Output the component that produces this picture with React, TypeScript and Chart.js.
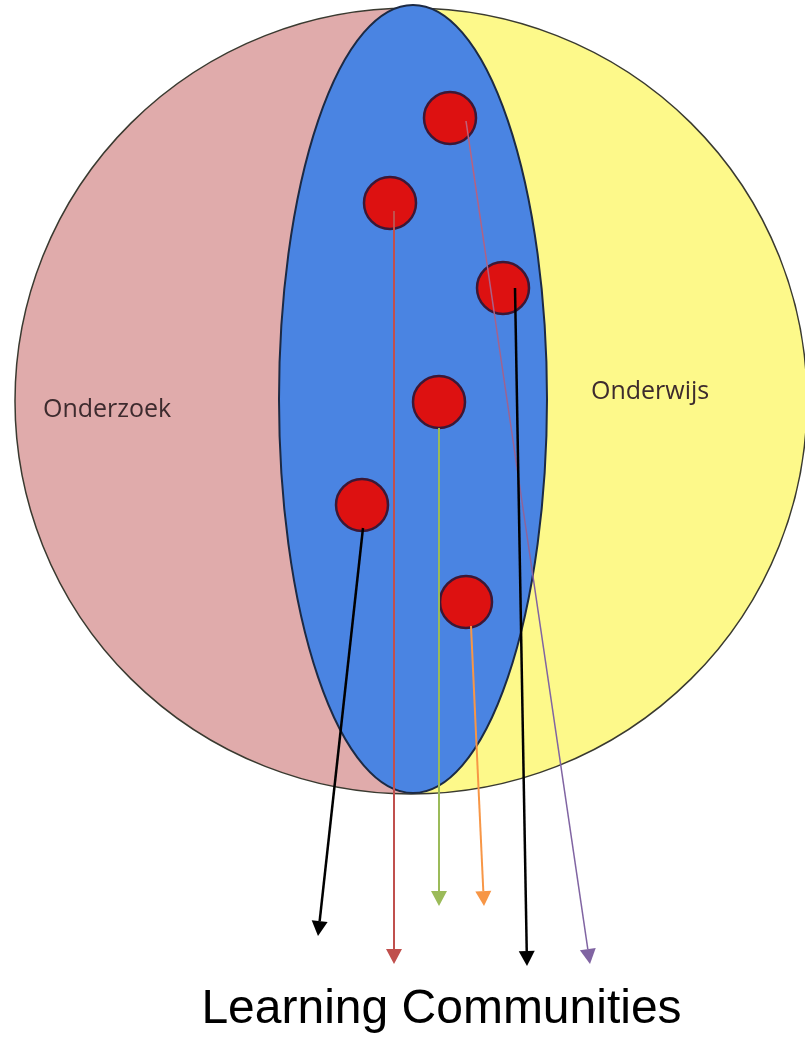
import React, { useEffect, useRef } from "react";
import { Chart, registerables } from "chart.js";

Chart.register(...registerables);

// Region labels
const regionLabels = ["Onderzoek", "Onderwijs"];
const regionLabelX = [43, 591];
const regionLabelY = [417, 399];
const footerLabel = "Learning Communities";

// Red dots (learning communities)
const dotX = [450, 390, 503, 439, 362, 466];
const dotY = [118, 203, 288, 402, 505, 602];

// Arrows from dots towards "Learning Communities"
const arrowStartX = [466, 394, 515, 439, 363, 471];
const arrowStartY = [121, 211, 288, 428, 528, 626];
const arrowEndX = [590, 394, 527, 439, 318, 484];
const arrowEndY = [964, 964, 966, 906, 936, 906];
const arrowColors = ["#8064a2", "#c0504d", "#000000", "#9bbb59", "#000000", "#f79646"];
const arrowTopColors = ["#c0607a", "#c0504d", "#000000", "#9bbb59", "#000000", "#f79646"];
const arrowWidths = [1.5, 2, 2.5, 2, 2.5, 2];

// Ellipses: [cx, cy, rx, ry]
const outerEllipse = [411, 401, 396, 393];
const innerEllipse = [413, 399, 134, 394];

const W = 805;
const H = 1038;

const diagramPlugin = {
  id: "diagram",
  beforeDatasetsDraw(chart: any) {
    const ctx = chart.ctx;
    const xs = chart.scales.x;
    const ys = chart.scales.y;
    const px = (v: number) => xs.getPixelForValue(v);
    const py = (v: number) => ys.getPixelForValue(v);
    const [ocx, ocy, orx, ory] = outerEllipse;
    const cx = px(ocx), cy = py(ocy);
    const rx = px(ocx + orx) - cx, ry = Math.abs(py(ocy + ory) - cy);
    ctx.save();
    // pink left half
    ctx.beginPath();
    ctx.ellipse(cx, cy, rx, ry, 0, Math.PI / 2, (Math.PI * 3) / 2);
    ctx.closePath();
    ctx.fillStyle = "#e0abab";
    ctx.fill();
    // yellow right half
    ctx.beginPath();
    ctx.ellipse(cx, cy, rx, ry, 0, -Math.PI / 2, Math.PI / 2);
    ctx.closePath();
    ctx.fillStyle = "#fdf98a";
    ctx.fill();
    // outline
    ctx.beginPath();
    ctx.ellipse(cx, cy, rx, ry, 0, 0, Math.PI * 2);
    ctx.lineWidth = 1.5;
    ctx.strokeStyle = "#3a3a30";
    ctx.stroke();
    // inner blue
    const [icx, icy, irx, iry] = innerEllipse;
    const bx = px(icx), by = py(icy);
    const brx = px(icx + irx) - bx, bry = Math.abs(py(icy + iry) - by);
    ctx.beginPath();
    ctx.ellipse(bx, by, brx, bry, 0, 0, Math.PI * 2);
    ctx.fillStyle = "#4a84e2";
    ctx.fill();
    ctx.lineWidth = 2;
    ctx.strokeStyle = "#1c2a44";
    ctx.stroke();
    // region labels
    ctx.fillStyle = "#3d2b2e";
    ctx.font = "25px 'Open Sans'";
    ctx.textBaseline = "alphabetic";
    ctx.textAlign = "left";
    regionLabels.forEach((t, i) => {
      ctx.fillText(t, px(regionLabelX[i]), py(regionLabelY[i]));
    });
    ctx.restore();
  },
  afterDatasetsDraw(chart: any) {
    const ctx = chart.ctx;
    const xs = chart.scales.x;
    const ys = chart.scales.y;
    const px = (v: number) => xs.getPixelForValue(v);
    const py = (v: number) => ys.getPixelForValue(v);
    ctx.save();
    arrowStartX.forEach((_, i) => {
      const x1 = px(arrowStartX[i]), y1 = py(arrowStartY[i]);
      const x2 = px(arrowEndX[i]), y2 = py(arrowEndY[i]);
      const ang = Math.atan2(y2 - y1, x2 - x1);
      const headLen = 15, headHalf = 8;
      const bxp = x2 - headLen * Math.cos(ang);
      const byp = y2 - headLen * Math.sin(ang);
      const grad = ctx.createLinearGradient(x1, y1, x2, y2);
      grad.addColorStop(0, arrowTopColors[i]);
      grad.addColorStop(0.6, arrowColors[i]);
      grad.addColorStop(1, arrowColors[i]);
      ctx.beginPath();
      ctx.moveTo(x1, y1);
      ctx.lineTo(bxp, byp);
      ctx.lineWidth = arrowWidths[i];
      ctx.strokeStyle = grad;
      ctx.stroke();
      ctx.beginPath();
      ctx.moveTo(x2, y2);
      ctx.lineTo(bxp + headHalf * Math.sin(ang), byp - headHalf * Math.cos(ang));
      ctx.lineTo(bxp - headHalf * Math.sin(ang), byp + headHalf * Math.cos(ang));
      ctx.closePath();
      ctx.fillStyle = arrowColors[i];
      ctx.fill();
    });
    // footer label
    ctx.fillStyle = "#000000";
    ctx.font = "48px 'Liberation Sans', Arial, sans-serif";
    ctx.textAlign = "center";
    ctx.textBaseline = "alphabetic";
    ctx.fillText(footerLabel, px(441.5), py(1023));
    ctx.restore();
  },
};

export default function App() {
  const ref = useRef<HTMLCanvasElement | null>(null);
  useEffect(() => {
    if (!ref.current) return;
    const chart = new Chart(ref.current, {
      type: "scatter",
      data: {
        datasets: [
          {
            label: "Learning Communities",
            data: dotX.map((x, i) => ({ x, y: dotY[i] })),
            pointRadius: 26,
            pointHoverRadius: 26,
            backgroundColor: "#dd1111",
            borderColor: "#3b1836",
            borderWidth: 2.5,
          },
        ],
      },
      options: {
        responsive: false,
        animation: false,
        events: [],
        layout: { padding: 0, autoPadding: false },
        plugins: {
          legend: { display: false },
          tooltip: { enabled: false },
          title: { display: false },
        },
        scales: {
          x: { type: "linear", min: 0, max: W, display: false },
          y: { type: "linear", min: 0, max: H, reverse: true, display: false },
        },
      },
      plugins: [diagramPlugin],
    });
    return () => chart.destroy();
  }, []);
  return (
    <div style={{ position: "fixed", left: 0, top: 0, width: W, height: H, background: "#ffffff" }}>
      <canvas ref={ref} width={W} height={H} style={{ display: "block", width: W, height: H }} />
    </div>
  );
}
